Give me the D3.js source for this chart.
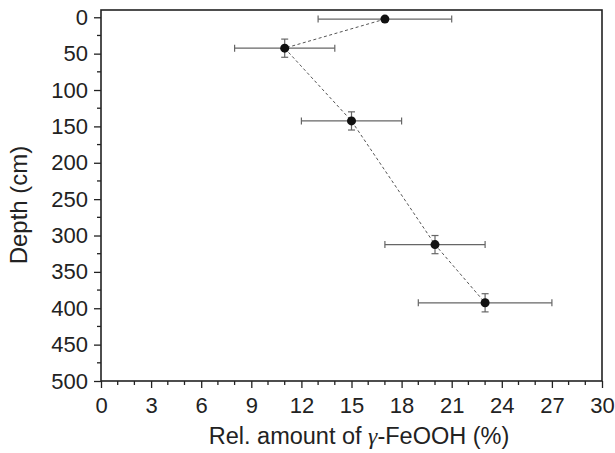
<!DOCTYPE html>
<html><head><meta charset="utf-8">
<script src="https://cdn.jsdelivr.net/npm/d3@7"></script>
<style>body{margin:0;background:#fff}</style>
</head><body>
<svg id="c" width="615" height="453"></svg>
<script>
const amount = [17, 11, 15, 20, 23];
const depth = [2.5, 42.5, 142.5, 312.5, 392.5];
const amountErr = [4, 3, 3, 3, 4];
const depthErr = [2.5, 12.5, 12.5, 12.5, 12.5];
const xTicks = [0, 3, 6, 9, 12, 15, 18, 21, 24, 27, 30];
const yTicks = [0, 50, 100, 150, 200, 250, 300, 350, 400, 450, 500];
const xLabel = ["Rel. amount of ", "γ", "-FeOOH (%)"];
const yLabel = "Depth (cm)";

const svg = d3.select("#c");
const L = 101, R = 602, T = 10, B = 381;
const x = d3.scaleLinear().domain([0, 30]).range([L, R]);
const y = d3.scaleLinear().domain([-10, 500]).range([T, B]);
const font = "'Liberation Sans', Arial, sans-serif";
const ink = "#222";

// minor ticks
const xMinor = d3.range(0, 30.01, 1).filter(v => v % 3 !== 0);
const yMinor = d3.range(25, 500, 50);
svg.append("g").selectAll("line").data(xMinor).join("line")
  .attr("x1", d => x(d)).attr("x2", d => x(d)).attr("y1", B).attr("y2", B + 4)
  .attr("stroke", ink).attr("stroke-width", 1.3);
svg.append("g").selectAll("line").data(yMinor).join("line")
  .attr("y1", d => y(d)).attr("y2", d => y(d)).attr("x1", L).attr("x2", L - 4)
  .attr("stroke", ink).attr("stroke-width", 1.3);

// axes
const xAxis = d3.axisBottom(x).tickValues(xTicks).tickSize(7).tickPadding(9).tickSizeOuter(0);
const yAxis = d3.axisLeft(y).tickValues(yTicks).tickSize(7).tickPadding(6).tickSizeOuter(0);
const gx = svg.append("g").attr("transform", `translate(0,${B})`).call(xAxis);
const gy = svg.append("g").attr("transform", `translate(${L},0)`).call(yAxis);
[gx, gy].forEach(g => {
  g.select(".domain").remove();
  g.selectAll(".tick line").attr("stroke", ink).attr("stroke-width", 1.3);
  g.selectAll(".tick text").attr("fill", ink).style("font-family", font).style("font-size", "22px");
});
gx.selectAll(".tick text").attr("dy", "0.71em");

// frame
svg.append("rect").attr("x", L).attr("y", T).attr("width", R - L).attr("height", B - T)
  .attr("fill", "none").attr("stroke", ink).attr("stroke-width", 1.6);

// axis titles
const xt = svg.append("text").attr("x", 359).attr("y", 444).attr("text-anchor", "middle")
  .attr("fill", ink).style("font-family", font).style("font-size", "23.5px");
xt.append("tspan").text(xLabel[0]);
xt.append("tspan").text(xLabel[1]).style("font-family", "'Liberation Serif', 'Times New Roman', serif").style("font-style", "italic");
xt.append("tspan").text(xLabel[2]);
svg.append("text").attr("transform", `translate(26.5,205) rotate(-90)`)
  .attr("text-anchor", "middle").attr("fill", ink)
  .style("font-family", font).style("font-size", "24px").text(yLabel);

const pts = amount.map((a, i) => ({a, d: depth[i], ea: amountErr[i], ed: depthErr[i]}));

// dashed connecting line
svg.append("path").datum(pts)
  .attr("d", d3.line().x(p => x(p.a)).y(p => y(p.d)))
  .attr("fill", "none").attr("stroke", "#555").attr("stroke-width", 1).attr("stroke-dasharray", "3,2.5");

// error bars
const eb = svg.append("g").attr("stroke", "#666").attr("stroke-width", 1.2);
const cap = 3.5;
pts.forEach(p => {
  eb.append("line").attr("x1", x(p.a - p.ea)).attr("x2", x(p.a + p.ea)).attr("y1", y(p.d)).attr("y2", y(p.d));
  [p.a - p.ea, p.a + p.ea].forEach(v => eb.append("line").attr("x1", x(v)).attr("x2", x(v)).attr("y1", y(p.d) - cap).attr("y2", y(p.d) + cap));
  eb.append("line").attr("x1", x(p.a)).attr("x2", x(p.a)).attr("y1", y(p.d - p.ed)).attr("y2", y(p.d + p.ed));
  [p.d - p.ed, p.d + p.ed].forEach(v => eb.append("line").attr("y1", y(v)).attr("y2", y(v)).attr("x1", x(p.a) - cap).attr("x2", x(p.a) + cap));
});

// markers
svg.append("g").selectAll("circle").data(pts).join("circle")
  .attr("cx", p => x(p.a)).attr("cy", p => y(p.d)).attr("r", 4.5).attr("fill", "#111");
</script>
</body></html>
